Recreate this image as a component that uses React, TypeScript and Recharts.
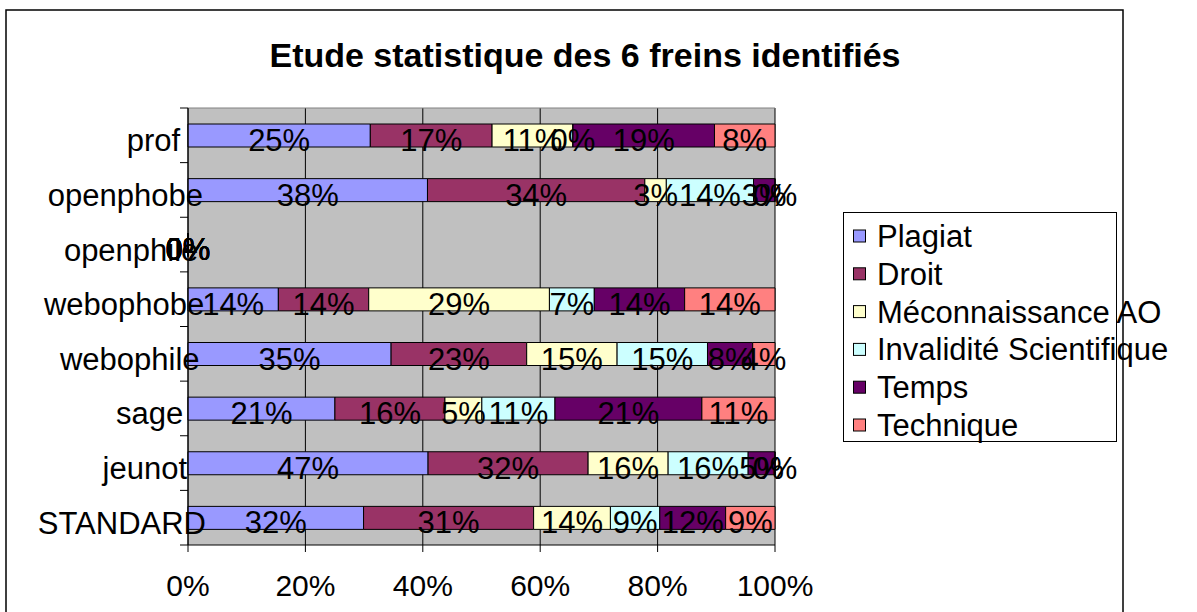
import React from 'react'
import { BarChart, Bar, XAxis, YAxis, CartesianGrid, LabelList } from 'recharts'

const FONT = '"Liberation Sans", Arial, sans-serif'

const categories = ['prof', 'openphobe', 'openphile', 'webophobe', 'webophile', 'sage', 'jeunot', 'STANDARD']

const plagiat = [0.25, 0.379, 0, 0.143, 0.346, 0.211, 0.474, 0.32]
const droit = [0.167, 0.344, 0, 0.143, 0.231, 0.158, 0.316, 0.31]
const meconnaissance = [0.111, 0.034, 0, 0.286, 0.154, 0.053, 0.158, 0.14]
const invalidite = [0, 0.138, 0, 0.071, 0.154, 0.105, 0.158, 0.09]
const temps = [0.194, 0.034, 0, 0.143, 0.077, 0.211, 0.053, 0.12]
const technique = [0.083, 0, 0, 0.143, 0.038, 0.105, 0, 0.09]

const seriesKeys = ['plagiat', 'droit', 'meconnaissance', 'invalidite', 'temps', 'technique']
const seriesNames = ['Plagiat', 'Droit', 'Méconnaissance AO', 'Invalidité Scientifique', 'Temps', 'Technique']
const seriesColors = ['#9999FF', '#993366', '#FFFFCC', '#CCFFFF', '#660066', '#FF8080']
const seriesValues = [plagiat, droit, meconnaissance, invalidite, temps, technique]

const xTicks = [0, 0.2, 0.4, 0.6, 0.8, 1]

const data = categories.map((name, i) => {
  const row: Record<string, string | number> = { name }
  seriesKeys.forEach((k, s) => {
    row[k] = seriesValues[s][i]
  })
  return row
})

const pct = (v: number) => `${Math.round(v * 100)}%`

// the old chart laid out the category names with a smaller font than it drew them,
// so long names spill over the axis; mimic that with a measured offset
let ctx: CanvasRenderingContext2D | null = null
function measure(text: string, size: number) {
  if (!ctx) ctx = document.createElement('canvas').getContext('2d')
  if (!ctx) return text.length * size * 0.5
  ctx.font = `${size}px "Liberation Sans"`
  return ctx.measureText(text).width
}

function CategoryTick(props: any) {
  const { x, y, payload, index, visibleTicksCount } = props
  const half = payload?.offset ?? 0
  const label = String(payload.value)
  return (
    <g>
      <line x1={x} x2={x + 8} y1={y - half} y2={y - half} stroke="#000" />
      {index === visibleTicksCount - 1 && (
        <line x1={x} x2={x + 8} y1={y + half} y2={y + half} stroke="#000" />
      )}
      <text
        x={x - 12 - measure(label, 24)}
        y={y + 16}
        fontSize={31}
        fontFamily={FONT}
        fill="#000"
        textAnchor="start"
      >
        {label}
      </text>
    </g>
  )
}

const makeLabel = (key: string) => (props: any) => {
  const { x, y, width, height, value, payload } = props
  const v = typeof value === 'number' ? value : Number(payload?.[key] ?? 0)
  return (
    <text
      x={Number(x) + Number(width) / 2}
      y={Number(y) + Number(height) / 2 + 15.5}
      textAnchor="middle"
      fontSize={31}
      fontFamily={FONT}
      fill="#000"
    >
      {pct(v)}
    </text>
  )
}

export default function App() {
  return (
    <div
      style={{
        position: 'fixed',
        left: 0,
        top: 0,
        width: 1197,
        height: 612,
        overflow: 'hidden',
        background: '#fff',
        fontFamily: FONT,
      }}
    >
      <BarChart
        width={1197}
        height={612}
        data={data}
        layout="vertical"
        stackOffset="expand"
        margin={{ top: 108, right: 422, left: 0, bottom: 0 }}
      >
        <CartesianGrid vertical horizontal={false} stroke="#000" fill="#C0C0C0" fillOpacity={1} />
        <CartesianGrid
          vertical={false}
          horizontal
          stroke="#808080"
          horizontalCoordinatesGenerator={({ offset }: any) => [offset.top]}
        />
        {seriesKeys.map((k, s) => (
          <Bar
            key={k}
            dataKey={k}
            name={seriesNames[s]}
            stackId="a"
            fill={seriesColors[s]}
            stroke="#000"
            strokeWidth={1}
            barSize={23}
            minPointSize={0.01}
            isAnimationActive={false}
          >
            <LabelList dataKey={k} content={makeLabel(k)} />
          </Bar>
        ))}
        <XAxis
          type="number"
          domain={[0, 1]}
          ticks={xTicks}
          tickFormatter={pct}
          tickSize={7}
          tickMargin={23}
          height={67}
          axisLine={{ stroke: '#000' }}
          tickLine={{ stroke: '#000' }}
          tick={{ fontSize: 30, fill: '#000', fontFamily: FONT }}
        />
        <YAxis
          type="category"
          dataKey="name"
          width={188}
          tickSize={8}
          tickMargin={0}
          tickLine={false}
          axisLine={{ stroke: '#000' }}
          tick={<CategoryTick />}
          interval={0}
        />
      </BarChart>

      <svg
        width={1197}
        height={612}
        style={{ position: 'absolute', left: 0, top: 0, pointerEvents: 'none' }}
      >
        <rect x={6} y={10} width={1117} height={620} fill="none" stroke="#000" strokeWidth={1.5} />
        <text x={585} y={67} textAnchor="middle" fontSize={34} fontWeight="bold" fontFamily={FONT} fill="#000">
          Etude statistique des 6 freins identifiés
        </text>
        <rect x={843.5} y={212.5} width={273} height={229} fill="none" stroke="#000" strokeWidth={1} />
        {seriesNames.map((n, s) => {
          const cy = 236 + s * 37.8
          return (
            <g key={n}>
              <rect x={853.5} y={cy - 6} width={12} height={12} fill={seriesColors[s]} stroke="#000" strokeWidth={1} />
              <text x={877} y={cy + 11} fontSize={31} fontFamily={FONT} fill="#000">
                {n}
              </text>
            </g>
          )
        })}
      </svg>
    </div>
  )
}
